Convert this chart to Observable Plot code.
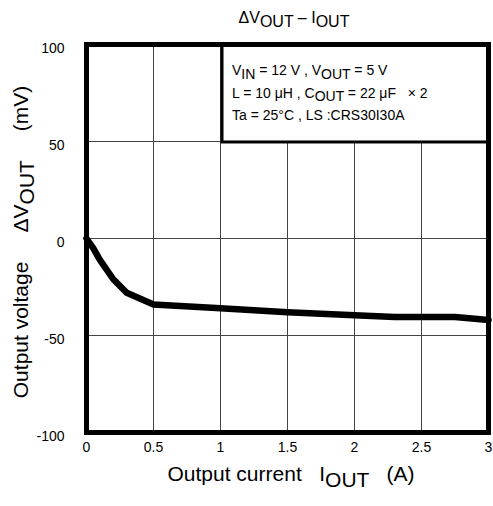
<!DOCTYPE html>
<html><head><meta charset="utf-8">
<script src="https://cdn.jsdelivr.net/npm/d3@7"></script>
<script src="https://cdn.jsdelivr.net/npm/@observablehq/plot@0.6"></script>
<style>body{margin:0;background:#fff;font-family:"Liberation Sans",Arial,sans-serif}</style>
</head><body><div id="chart"></div>
<script>
const current = [0, 0.05, 0.1, 0.2, 0.3, 0.5, 1.0, 1.5, 2.0, 2.3, 2.75, 3.0];
const deltaV  = [0, -5, -11, -21, -28, -34, -36, -38, -39.5, -40.5, -40.5, -42];
const xTicks = [0, 0.5, 1, 1.5, 2, 2.5, 3];
const yTicks = [-100, -50, 0, 50, 100];
const legendBox = {x1: 1.015, x2: 3, y1: 49.5, y2: 100};
const legendLines = [
  [["V",""],["IN","sub"],[" = 12 V , V",""],["OUT","sub"],[" = 5 V",""]],
  [["L = 10 \u03bcH , C",""],["OUT","sub"],[" = 22 \u03bcF   \u00d7 2",""]],
  [["Ta = 25\u00b0C , LS :CRS30I30A",""]]
];
const titleParts = [["\u0394V",""],["OUT","sub"],[" \u2013 I",""],["OUT","sub"]];
const xLabelParts = [["Output current   I",""],["OUT","sub"],["   (A)",""]];
const yLabelParts = [["Output voltage     \u0394V",""],["OUT","sub"],["     (mV)",""]];
const data = current.map((x,i)=>({x, y: deltaV[i]}));

const W = 493, H = 506, ML = 86, MR = 5, MT = 44, MB = 74;
const fmt = d => String(d);
const plot = Plot.plot({
  width: W, height: H,
  marginLeft: ML, marginRight: MR, marginTop: MT, marginBottom: MB,
  style: {fontFamily: '"Liberation Sans",Arial,sans-serif', fontSize: "14px", background: "#fff", color: "#000"},
  x: {domain: [0, 3]},
  y: {domain: [-100, 100]},
  marks: [
    Plot.gridX(xTicks, {stroke: "#444", strokeOpacity: 1, strokeWidth: 1}),
    Plot.gridY(yTicks, {stroke: "#444", strokeOpacity: 1, strokeWidth: 1}),
    Plot.rect([legendBox], {x1: "x1", x2: "x2", y1: "y1", y2: "y2", fill: "#fff", stroke: "#000", strokeWidth: 3}),
    Plot.line(data, {x: "x", y: "y", stroke: "#000", strokeWidth: 6.5, strokeLinejoin: "round"}),
    Plot.frame({stroke: "#000", strokeWidth: 5}),
    Plot.axisX(xTicks, {tickSize: 0, tickPadding: 10, label: null, tickFormat: fmt, fontSize: 14}),
    Plot.axisY(yTicks, {tickSize: 0, tickPadding: 22, label: null, tickFormat: fmt, dy: 4, fontSize: 14})
  ]
});
document.getElementById("chart").appendChild(plot);
const svg = d3.select(plot);

function rich(g, parts, size) {
  let back = 0;
  parts.forEach(([t, kind]) => {
    const sp = g.append("tspan").style("font-size", size + "px").text(t);
    if (kind === "sub") { sp.attr("dy", size*0.28 - back); back = size*0.28; }
    else { if (back) sp.attr("dy", -back); back = 0; }
  });
}
function txt(size, anchor) {
  return svg.append("text").style("font-size", size + "px").style("text-anchor", anchor)
    .style("white-space", "pre").attr("fill", "#000").attr("xml:space", "preserve");
}
const cx = ML + (W - ML - MR)/2;
// title
const t = txt(16, "middle").attr("x", cx + 7).attr("y", 23);
rich(t, titleParts, 16);
// x label
const xl = txt(21, "middle").attr("x", cx + 4).attr("y", 481);
rich(xl, xLabelParts, 21);
// y label
const yl = txt(21, "middle").attr("transform", `translate(28,242) rotate(-90)`);
rich(yl, yLabelParts, 21);
// legend text
const xs = plot.scale("x"), ys = plot.scale("y");
const lx = xs.apply(legendBox.x1) + 10;
const ly0 = ys.apply(legendBox.y2);
legendLines.forEach((parts, i) => {
  const g = txt(14, "start").attr("x", lx).attr("y", ly0 + 31 + i*22.5);
  rich(g, parts, 14);
});
</script></body></html>
